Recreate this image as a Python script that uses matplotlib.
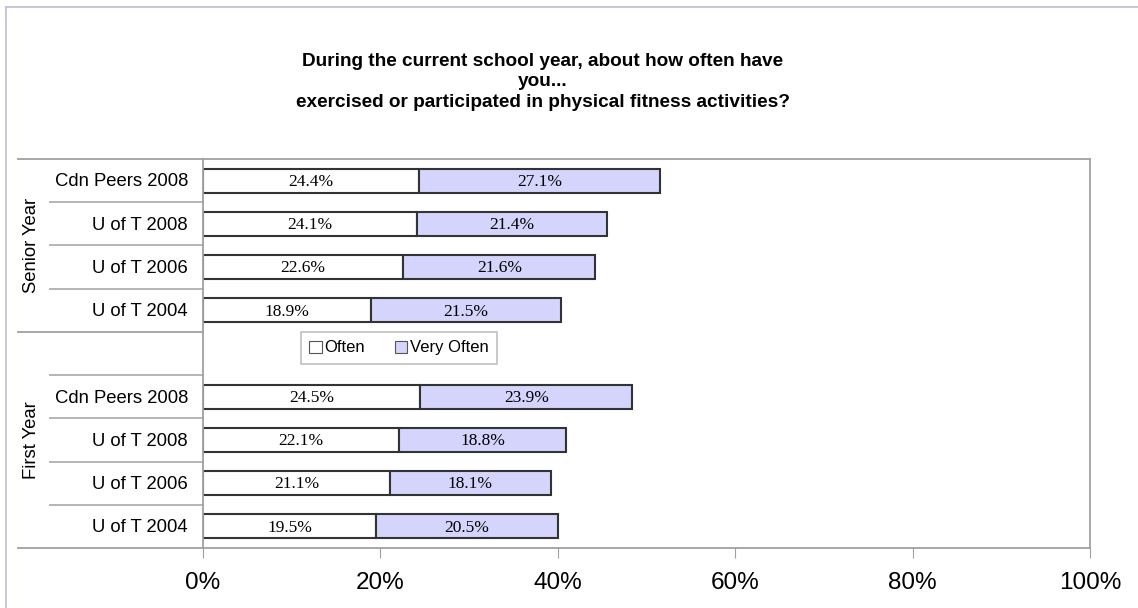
import matplotlib.pyplot as plt
import matplotlib.transforms as mtransforms
from matplotlib.patches import Patch
from matplotlib.lines import Line2D

plt.rcParams['font.family'] = ['Liberation Sans', 'DejaVu Sans']

# data (percent)
categories = ['Cdn Peers 2008', 'U of T 2008', 'U of T 2006', 'U of T 2004',
              '',
              'Cdn Peers 2008', 'U of T 2008', 'U of T 2006', 'U of T 2004']
often = [24.4, 24.1, 22.6, 18.9, None, 24.5, 22.1, 21.1, 19.5]
very_often = [27.1, 21.4, 21.6, 21.5, None, 23.9, 18.8, 18.1, 20.5]
groups = ['Senior Year', 'First Year']
series_names = ['Often', 'Very Often']
xticks = [0, 20, 40, 60, 80, 100]

W, H = 1138, 608
fig = plt.figure(figsize=(W / 100, H / 100), dpi=100)
ax = fig.add_axes([203 / W, 1 - 548 / H, (1090 - 203) / W, (548 - 159) / H])

edge = '#333333'
c_often = 'white'
c_very = '#d4d4fc'
bh = 0.56

for i, (o, v) in enumerate(zip(often, very_often)):
    if o is None:
        continue
    ax.barh(i, o, height=bh, color=c_often, edgecolor=edge, linewidth=1.5)
    ax.barh(i, v, left=o, height=bh, color=c_very, edgecolor=edge, linewidth=1.5)
    ax.text(o / 2, i + 0.03, '%.1f%%' % o, ha='center', va='center',
            family='Liberation Serif', fontsize=12.5)
    ax.text(o + v / 2, i + 0.03, '%.1f%%' % v, ha='center', va='center',
            family='Liberation Serif', fontsize=12.5)

ax.set_xlim(0, 100)
ax.set_ylim(len(categories) - 0.5, -0.5)
ax.set_xticks(xticks)
ax.set_xticklabels(['%d%%' % t for t in xticks], fontsize=17.5)
ax.tick_params(axis='x', length=7, color='#a0a0a0', pad=10)
ax.set_yticks([])
for s in ax.spines.values():
    s.set_color('#a0a0a0')
    s.set_linewidth(1.3)

# category labels and separators in the label area
trans = mtransforms.blended_transform_factory(ax.transAxes, ax.transData)
x_lab = (188 - 203) / 887
x_inner = (50 - 203) / 887
x_group = (18 - 203) / 887
for i, c in enumerate(categories):
    ax.text(x_lab, i + 0.03, c, transform=trans, ha='right', va='center', fontsize=13.3)
for y in [0.5, 1.5, 2.5, 4.5, 5.5, 6.5, 7.5]:
    ax.add_line(Line2D([x_inner, 0], [y, y], transform=trans, color='#b0b0b0',
                       lw=1.3, clip_on=False))
for y in [-0.5, 3.5, 8.5]:
    ax.add_line(Line2D([x_group, 0], [y, y], transform=trans, color='#a0a0a0',
                       lw=1.3, clip_on=False))
x_grp_lab = (31 - 203) / 887
ax.text(x_grp_lab, 1.5, groups[0], transform=trans, rotation=90,
        ha='center', va='center', fontsize=13.3)
ax.text(x_grp_lab, 6.0, groups[1], transform=trans, rotation=90,
        ha='center', va='center', fontsize=13.3)

# legend in the empty slot
handles = [Patch(facecolor=c_often, edgecolor='#555555', lw=0.8),
           Patch(facecolor=c_very, edgecolor='#555555', lw=0.8)]
leg = ax.legend(handles, series_names, ncol=2, loc='center',
                bbox_to_anchor=(399 / W, 1 - 348 / H), bbox_transform=fig.transFigure,
                fontsize=12, frameon=True, fancybox=False, handlelength=0.75,
                handleheight=0.75, handletextpad=0.15, columnspacing=1.8,
                borderpad=0.5)
leg.get_frame().set_edgecolor('#b0b0b0')
leg.get_frame().set_linewidth(1.2)

fig.text(543 / W, 1 - 82 / H,
         'During the current school year, about how often have\nyou...\n'
         'exercised or participated in physical fitness activities?',
         ha='center', va='center', fontsize=13.7, fontweight='bold',
         linespacing=1.25)

# outer frame
fig.add_artist(Line2D([5.5 / W, 5.5 / W], [0, 1 - 7 / H], transform=fig.transFigure,
                      color='#c4c2d6', lw=1.3))
fig.add_artist(Line2D([5.5 / W, 1], [1 - 7 / H, 1 - 7 / H], transform=fig.transFigure,
                      color='#c4c2d6', lw=1.3))

fig.savefig('out.png', dpi=100)
